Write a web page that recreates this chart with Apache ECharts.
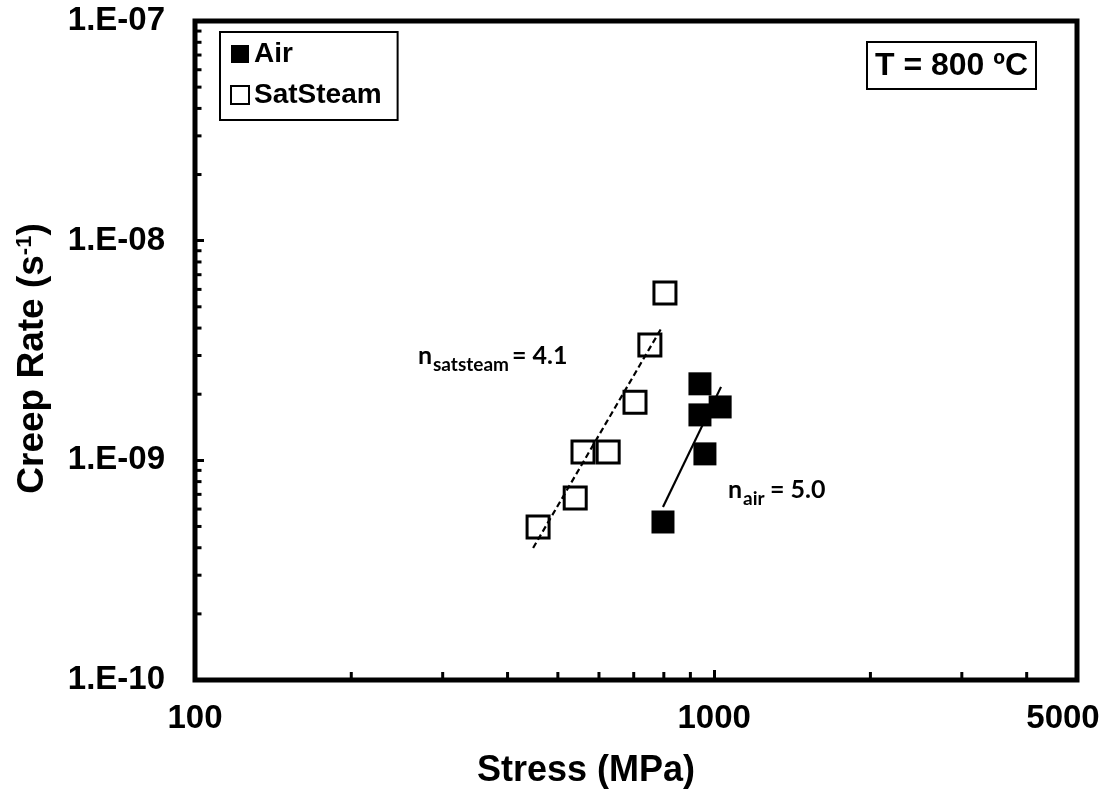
<!DOCTYPE html>
<html>
<head>
<meta charset="utf-8">
<script src="https://cdn.jsdelivr.net/npm/echarts@6/dist/echarts.min.js"></script>
<style>
  html, body { margin: 0; padding: 0; background: #fff; }
  #chart { width: 1109px; height: 797px; }
</style>
</head>
<body>
<div id="chart"></div>
<script>
// Minimum creep rate vs applied stress at 800 °C, air and saturated steam
const airStress = [939, 939, 1027, 960, 797];
const airRate = [2.23e-9, 1.61e-9, 1.75e-9, 1.07e-9, 5.24e-10];
const steamStress = [804, 752, 704, 559, 625, 540, 458];
const steamRate = [5.78e-9, 3.35e-9, 1.84e-9, 1.09e-9, 1.09e-9, 6.74e-10, 4.97e-10];

// Power-law fit lines (end points)
const airFitStress = [797, 1031];
const airFitRate = [6.13e-10, 2.16e-9];
const steamFitStress = [448, 794];
const steamFitRate = [3.99e-10, 4.05e-9];

// Axis ranges and ticks
const stressRange = [100, 5000];
const rateRange = [1e-10, 1e-7];
const stressMinorTicks = [200, 300, 400, 500, 600, 700, 800, 900, 2000, 3000, 4000];
const rateMinorTicks = [
  2e-10, 3e-10, 4e-10, 5e-10, 6e-10, 7e-10, 8e-10, 9e-10,
  2e-9, 3e-9, 4e-9, 5e-9, 6e-9, 7e-9, 8e-9, 9e-9,
  2e-8, 3e-8, 4e-8, 5e-8, 6e-8, 7e-8, 8e-8, 9e-8
];

const SANS = '"Liberation Sans", Arial, sans-serif';
const NOTE = 'Lato, "Open Sans", sans-serif';

const zip = (xs, ys) => xs.map((x, i) => [x, ys[i]]);

function minorTickSeries(points, dx, dy) {
  return {
    type: 'custom',
    silent: true,
    clip: false,
    z: 6,
    data: points,
    renderItem(params, api) {
      const p = api.coord([api.value(0), api.value(1)]);
      return {
        type: 'line',
        shape: { x1: p[0], y1: p[1], x2: p[0] + dx, y2: p[1] + dy },
        style: { stroke: '#000', lineWidth: 3 }
      };
    }
  };
}

function rateLabel(v) {
  const e = Math.round(Math.log10(v));
  const a = Math.abs(e);
  return '1.E' + (e < 0 ? '-' : '+') + (a < 10 ? '0' + a : a);
}

function note(x, y, text, size) {
  return {
    type: 'text', z: 10,
    style: { x: x, y: y, text: text, font: 'bold ' + size + 'px ' + NOTE, fill: '#000', verticalAlign: 'middle' }
  };
}

const chart = echarts.init(document.getElementById('chart'), null, { renderer: 'canvas' });

chart.setOption({
  backgroundColor: '#fff',
  animation: false,
  grid: {
    left: 195, right: 32, top: 21, bottom: 117,
    outerBoundsMode: 'none',
    containLabel: false,
    show: true, borderColor: '#000', borderWidth: 5, backgroundColor: 'transparent'
  },
  title: {
    text: 'T = 800 ºC',
    left: 867, top: 42,
    padding: [8, 8, 7, 8],
    borderColor: '#000', borderWidth: 2,
    textStyle: { fontFamily: SANS, fontSize: 32, fontWeight: 'bold', color: '#000' }
  },
  legend: {
    data: ['Air', 'SatSteam'],
    orient: 'vertical',
    left: 220, top: 32,
    padding: [8, 16, 11, 10],
    itemGap: 13,
    itemWidth: 18, itemHeight: 18,
    borderColor: '#000', borderWidth: 2,
    textStyle: { fontFamily: SANS, fontSize: 28, fontWeight: 'bold', color: '#000' }
  },
  xAxis: {
    type: 'log', logBase: 10,
    min: stressRange[0], max: stressRange[1],
    name: 'Stress (MPa)',
    nameLocation: 'middle',
    nameGap: 73,
    nameTextStyle: { fontFamily: SANS, fontSize: 36, fontWeight: 'bold', color: '#000', padding: [0, 100, 0, 0] },
    axisLine: { show: false },
    axisTick: { show: true, inside: true, length: 10, lineStyle: { color: '#000', width: 3 } },
    splitLine: { show: false },
    axisLabel: {
      margin: 22,
      showMinLabel: true, showMaxLabel: true,
      fontFamily: SANS, fontSize: 33, fontWeight: 'bold', color: '#000',
      formatter: v => {
        const n = Math.round(v);
        return n === stressRange[1] ? '{r|' + n + '}' : String(n);
      },
      rich: { r: { fontFamily: SANS, fontSize: 33, fontWeight: 'bold', color: '#000', padding: [0, 28, 0, 0] } }
    }
  },
  yAxis: {
    type: 'log', logBase: 10,
    min: rateRange[0], max: rateRange[1],
    name: '{a|Creep Rate (s}{b|-1}{a|)}',
    nameLocation: 'middle',
    nameGap: 144,
    nameTextStyle: {
      padding: [0, 16, 0, 0],
      rich: {
        a: { fontFamily: SANS, fontSize: 37, fontWeight: 'bold', color: '#000' },
        b: { fontFamily: SANS, fontSize: 22, fontWeight: 'bold', color: '#000', verticalAlign: 'top' }
      }
    },
    axisLine: { show: false },
    axisTick: { show: true, inside: true, length: 9, lineStyle: { color: '#000', width: 3 } },
    splitLine: { show: false },
    axisLabel: {
      margin: 30,
      fontFamily: SANS, fontSize: 33, fontWeight: 'bold', color: '#000',
      formatter: rateLabel
    }
  },
  graphic: [
    note(418, 356, 'n', 25),
    note(433, 365, 'satsteam', 19),
    note(512, 356, '= 4.1', 25),
    note(728, 490, 'n', 25),
    note(743, 499, 'air', 19),
    note(770, 490, '= 5.0', 25)
  ],
  series: [
    {
      name: 'Air',
      type: 'scatter',
      symbol: 'rect',
      symbolSize: 23,
      z: 3,
      itemStyle: { color: '#000', borderColor: '#000', borderWidth: 0, opacity: 1 },
      data: zip(airStress, airRate)
    },
    {
      name: 'SatSteam',
      type: 'scatter',
      symbol: 'rect',
      symbolSize: 22,
      z: 3,
      itemStyle: { color: 'rgba(255,255,255,0)', borderColor: '#000', borderWidth: 3, opacity: 1 },
      data: zip(steamStress, steamRate)
    },
    {
      name: 'Air fit',
      type: 'line',
      symbol: 'none',
      z: 4,
      lineStyle: { color: '#000', width: 2.2, type: 'solid' },
      data: zip(airFitStress, airFitRate)
    },
    {
      name: 'SatSteam fit',
      type: 'line',
      symbol: 'none',
      z: 4,
      lineStyle: { color: '#000', width: 2.2, type: [6, 3.5] },
      data: zip(steamFitStress, steamFitRate)
    },
    minorTickSeries(stressMinorTicks.map(v => [v, rateRange[0]]), 0, -8),
    minorTickSeries(rateMinorTicks.map(v => [stressRange[0], v]), 6.5, 0)
  ]
});
</script>
</body>
</html>
